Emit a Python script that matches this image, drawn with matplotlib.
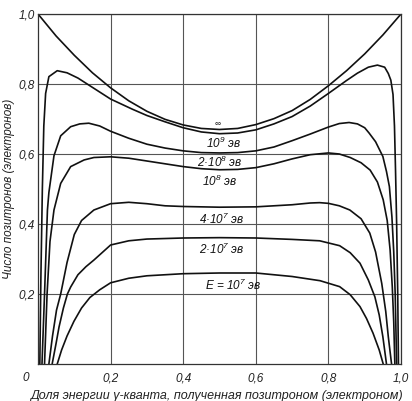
import matplotlib

matplotlib.use("Agg")
import matplotlib.pyplot as plt

plt.rcParams["font.family"] = ["Liberation Sans Narrow", "Liberation Sans", "DejaVu Sans"]
plt.rcParams["font.style"] = "italic"
plt.rcParams["mathtext.default"] = "regular"

# curves: fraction of gamma energy -> number of positrons
x_inf = [0.0, 0.05, 0.1, 0.15, 0.2, 0.25, 0.3, 0.35, 0.4, 0.45, 0.5, 0.55, 0.6,
         0.65, 0.7, 0.75, 0.8, 0.85, 0.9, 0.95, 1.0]
y_inf = [1.0, 0.937, 0.882, 0.832, 0.789, 0.752, 0.722, 0.699, 0.683, 0.673, 0.67,
         0.673, 0.684, 0.701, 0.724, 0.756, 0.795, 0.838, 0.886, 0.94, 1.0]

x_1e9 = [0.005, 0.008, 0.012, 0.016, 0.021, 0.03, 0.053, 0.08, 0.11, 0.14, 0.2, 0.26,
         0.3, 0.35, 0.4, 0.45, 0.5, 0.55, 0.6, 0.65, 0.7, 0.75, 0.8, 0.85, 0.88, 0.91,
         0.935, 0.955, 0.965, 0.972, 0.978, 0.982, 0.985, 0.988, 0.991, 0.993]
y_1e9 = [0.0, 0.25, 0.5, 0.68, 0.773, 0.821, 0.838, 0.832, 0.817, 0.797, 0.757, 0.728,
         0.71, 0.692, 0.675, 0.663, 0.658, 0.66, 0.669, 0.686, 0.707, 0.737, 0.773,
         0.81, 0.831, 0.848, 0.854, 0.848, 0.83, 0.811, 0.77, 0.68, 0.55, 0.4, 0.2, 0.0]

x_2e8 = [0.011, 0.018, 0.023, 0.026, 0.03, 0.044, 0.0625, 0.09, 0.115, 0.14, 0.17,
         0.2, 0.25, 0.3, 0.35, 0.4, 0.45, 0.5, 0.55, 0.6, 0.65, 0.7, 0.75, 0.8, 0.83,
         0.857, 0.88, 0.9, 0.912, 0.93, 0.95, 0.96, 0.968, 0.975, 0.98, 0.984, 0.988]
y_2e8 = [0.0, 0.2, 0.35, 0.44, 0.49, 0.595, 0.652, 0.678, 0.686, 0.688, 0.68, 0.665,
         0.645, 0.628, 0.617, 0.609, 0.604, 0.603, 0.604, 0.609, 0.62, 0.638, 0.657,
         0.677, 0.687, 0.69, 0.686, 0.675, 0.66, 0.635, 0.593, 0.55, 0.507, 0.42, 0.32,
         0.2, 0.0]

x_1e8 = [0.018, 0.025, 0.033, 0.044, 0.0625, 0.09, 0.127, 0.154, 0.2, 0.25, 0.3, 0.35,
         0.4, 0.45, 0.5, 0.55, 0.6, 0.65, 0.7, 0.75, 0.8, 0.83, 0.86, 0.89, 0.915,
         0.935, 0.951, 0.962, 0.97, 0.976, 0.98, 0.983]
y_1e8 = [0.0, 0.2, 0.35, 0.44, 0.516, 0.564, 0.583, 0.59, 0.592, 0.588, 0.58, 0.572,
         0.564, 0.558, 0.555, 0.556, 0.561, 0.572, 0.586, 0.598, 0.603, 0.6, 0.59,
         0.575, 0.554, 0.52, 0.469, 0.41, 0.326, 0.22, 0.12, 0.0]

x_4e7 = [0.03, 0.04, 0.051, 0.0625, 0.08, 0.1, 0.12, 0.154, 0.2, 0.25, 0.3, 0.35, 0.4,
         0.5, 0.6, 0.7, 0.75, 0.776, 0.8, 0.83, 0.859, 0.89, 0.914, 0.93, 0.947, 0.958,
         0.965, 0.974]
y_4e7 = [0.0, 0.08, 0.154, 0.2, 0.29, 0.37, 0.41, 0.44, 0.458, 0.462, 0.458, 0.452,
         0.45, 0.448, 0.449, 0.455, 0.46, 0.461, 0.459, 0.452, 0.44, 0.415, 0.374,
         0.32, 0.23, 0.15, 0.078, 0.0]

x_2e7 = [0.039, 0.05, 0.058, 0.07, 0.081, 0.09, 0.11, 0.132, 0.154, 0.2, 0.25, 0.3,
         0.4, 0.5, 0.6, 0.7, 0.776, 0.831, 0.86, 0.887, 0.91, 0.928, 0.94, 0.95, 0.96]
y_2e7 = [0.0, 0.06, 0.106, 0.16, 0.2, 0.22, 0.255, 0.278, 0.297, 0.34, 0.352, 0.357,
         0.36, 0.361, 0.36, 0.356, 0.352, 0.338, 0.318, 0.288, 0.24, 0.192, 0.14,
         0.078, 0.0]

x_1e7 = [0.053, 0.065, 0.08, 0.099, 0.12, 0.143, 0.17, 0.2, 0.25, 0.3, 0.4, 0.5, 0.6,
         0.7, 0.777, 0.831, 0.86, 0.887, 0.905, 0.923, 0.94, 0.951]
y_1e7 = [0.0, 0.04, 0.08, 0.122, 0.16, 0.19, 0.212, 0.232, 0.245, 0.252, 0.258, 0.26,
         0.26, 0.25, 0.238, 0.221, 0.198, 0.164, 0.13, 0.088, 0.04, 0.0]

curve_labels = ["∞", "10$^9$ эв", "2·10$^8$ эв", "10$^8$ эв", "4·10$^7$ эв",
                "2·10$^7$ эв", "E = 10$^7$ эв"]
label_x = [0.496, 0.51, 0.501, 0.501, 0.506, 0.506, 0.538]
label_y = [0.683, 0.63, 0.575, 0.521, 0.414, 0.326, 0.226]

ticks = [0.2, 0.4, 0.6, 0.8, 1.0]
tick_labels = ["0,2", "0,4", "0,6", "0,8", "1,0"]

fig = plt.figure(figsize=(4.12, 4.01), dpi=100)
ax = fig.add_axes([38 / 412, 37 / 401, 363 / 412, 350 / 401])

curves = [(x_inf, y_inf), (x_1e9, y_1e9), (x_2e8, y_2e8), (x_1e8, y_1e8),
          (x_4e7, y_4e7), (x_2e7, y_2e7), (x_1e7, y_1e7)]
for xs, ys in curves:
    ax.plot(xs, ys, color="#111111", linewidth=1.2, solid_capstyle="round")

for i, text in enumerate(curve_labels):
    size = 6 if i == 0 else 8.5
    ax.text(label_x[i], label_y[i], text, fontsize=size, ha="center", va="center",
            color="#111111")

ax.set_xlim(0, 1)
ax.set_ylim(0, 1)
ax.set_xticks(ticks)
ax.set_xticklabels(tick_labels)
ax.set_yticks(ticks)
ax.set_yticklabels(tick_labels)
ax.tick_params(length=0, labelsize=8.5, colors="#222222")
ax.tick_params(axis="x", pad=6)
ax.tick_params(axis="y", pad=2)
ax.grid(True, color="#555555", linewidth=0.8)
for spine in ax.spines.values():
    spine.set_color("#333333")
    spine.set_linewidth(0.9)

ax.text(-0.025, -0.04, "0", transform=ax.transAxes, ha="right", va="center",
        fontsize=8.5, color="#222222")

ax.set_ylabel("Число позитронов (электронов)", fontsize=8.5, color="#222222")
ax.yaxis.set_label_coords(-0.064, 0.5)
ax.set_xlabel("Доля энергии γ-кванта, полученная позитроном (электроном)",
              fontsize=9, color="#222222", family=["Liberation Sans", "DejaVu Sans"])
ax.xaxis.set_label_coords(0.493, -0.075)

fig.savefig("out.png", dpi=100)
